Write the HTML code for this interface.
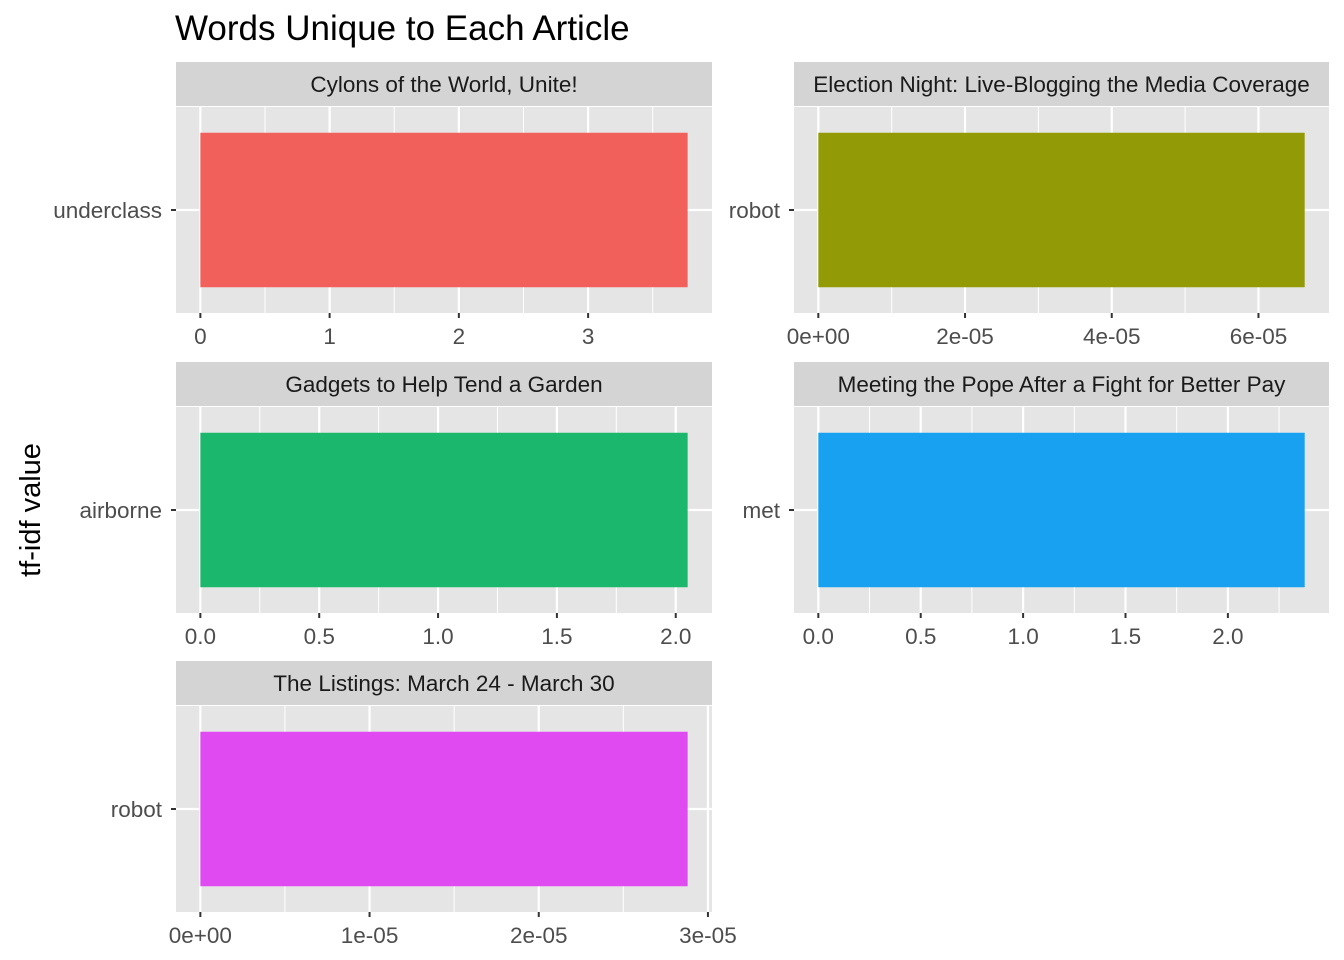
<!DOCTYPE html>
<html><head><meta charset="utf-8"><style>
body{margin:0;background:#fff;}
svg{display:block;font-family:"Liberation Sans",sans-serif;}
</style></head><body>
<svg id="c" width="1344" height="960" xmlns="http://www.w3.org/2000/svg">
<text x="175" y="40" font-size="35" fill="#000">Words Unique to Each Article</text>
<text transform="translate(40,510) rotate(-90)" text-anchor="middle" font-size="29" fill="#000">tf-idf value</text>
</svg>
<script>
const titles = ["Cylons of the World, Unite!","Election Night: Live-Blogging the Media Coverage","Gadgets to Help Tend a Garden","Meeting the Pope After a Fight for Better Pay","The Listings: March 24 - March 30"];
const words = ["underclass","robot","airborne","met","robot"];
const values = [3.77, 6.63e-5, 2.05, 2.375, 2.88e-5];
const colorsShown = ["#F2605C","#929A05","#1BB76D","#17A1F0","#DF4BF0"];
const tickVals = [[0,1,2,3],[0,2e-5,4e-5,6e-5],[0,0.5,1,1.5,2],[0,0.5,1,1.5,2],[0,1e-5,2e-5,3e-5]];
const tickLabels = [["0","1","2","3"],["0e+00","2e-05","4e-05","6e-05"],["0.0","0.5","1.0","1.5","2.0"],["0.0","0.5","1.0","1.5","2.0"],["0e+00","1e-05","2e-05","3e-05"]];
const minorVals = [[0.5,1.5,2.5,3.5],[1e-5,3e-5,5e-5],[0.25,0.75,1.25,1.75],[0.25,0.75,1.25,1.75,2.25],[0.5e-5,1.5e-5,2.5e-5]];

const svg = document.getElementById('c');
const NS = "http://www.w3.org/2000/svg";
function mk(tag, attrs, parent){const e=document.createElementNS(NS,tag);for(const k in attrs)e.setAttribute(k,attrs[k]);(parent||svg).appendChild(e);return e;}
const colX=[176,794], colW=[536,535], rowY=[62,362,661];
const stripH=44, panelH=206;
const FS='22.5';
for(let i=0;i<titles.length;i++){
  const cx=colX[i%2], w=colW[i%2], sy=rowY[Math.floor(i/2)], py=sy+stripH+1;
  const g=mk('g',{});
  
  
  const strip=mk('rect',{x:cx,y:sy,width:w,height:stripH,fill:"#D4D4D4"},g);
  
  
  const st=mk('text',{x:cx+w/2,y:sy+30,'text-anchor':'middle','font-size':FS,fill:'#1A1A1A'},g);
  st.textContent=titles[i];
  
  
  const bg=mk('rect',{x:cx,y:py,width:w,height:panelH,fill:"#E5E5E5"},g);
  
  
  const maxV=values[i], lo=-0.05*maxV, hi=maxV*1.05;
  const sx=v=>cx+(v-lo)/(hi-lo)*w;
  minorVals[i].forEach(v=>{const l=mk('line',{x1:sx(v),x2:sx(v),y1:py,y2:py+panelH,stroke:'#fff','stroke-width':1},g);
    });
  tickVals[i].forEach((v,j)=>{
    const l=mk('line',{x1:sx(v),x2:sx(v),y1:py,y2:py+panelH,stroke:'#fff','stroke-width':2.2},g);
    
    const t=mk('line',{x1:sx(v),x2:sx(v),y1:py+panelH,y2:py+panelH+5,stroke:'#333','stroke-width':2},g);
    
    const tl=mk('text',{x:sx(v),y:py+panelH+31,'text-anchor':'middle','font-size':FS,fill:'#4D4D4D'},g);
    tl.textContent=tickLabels[i][j];
    
  });
  const yc=py+panelH/2;
  const hl=mk('line',{x1:cx,x2:cx+w,y1:yc,y2:yc,stroke:'#fff','stroke-width':2.2},g);
  
  const bh=panelH*0.9/1.2;
  const bar=mk('rect',{x:sx(0),y:yc-bh/2,width:sx(values[i])-sx(0),height:bh,fill:colorsShown[i]},g);
  
  
  const yt=mk('line',{x1:cx-5,x2:cx,y1:yc,y2:yc,stroke:'#333','stroke-width':2},g);
  
  const yl=mk('text',{x:cx-14,y:yc+8,'text-anchor':'end','font-size':FS,fill:'#4D4D4D'},g);
  yl.textContent=words[i];
  
}
</script>
</body></html>
